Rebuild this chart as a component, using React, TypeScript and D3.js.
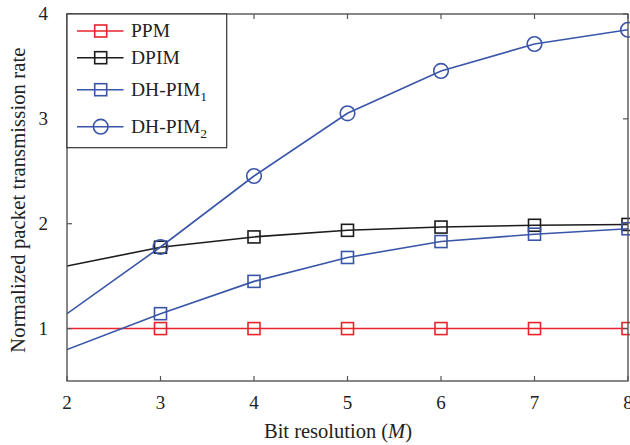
import React from "react";
import * as d3 from "d3";

const bits = [2, 3, 4, 5, 6, 7, 8];
const ppm = [1.0, 1.0, 1.0, 1.0, 1.0, 1.0, 1.0];
const dpim = [1.596, 1.776, 1.874, 1.937, 1.968, 1.985, 1.993];
const dhpim1 = [0.8, 1.142, 1.45, 1.678, 1.83, 1.9, 1.952];
const dhpim2 = [1.142, 1.778, 2.455, 3.053, 3.457, 3.714, 3.85];
const xTicks = [2, 3, 4, 5, 6, 7, 8];
const yTicks = [1, 2, 3, 4];
const markerFrom = 3;

type Series = { name: string; sub?: string; values: number[]; color: string; marker: "square" | "circle" };

const series: Series[] = [
  { name: "PPM", values: ppm, color: "#e8232b", marker: "square" },
  { name: "DPIM", values: dpim, color: "#1c1c1c", marker: "square" },
  { name: "DH-PIM", sub: "1", values: dhpim1, color: "#3a56a8", marker: "square" },
  { name: "DH-PIM", sub: "2", values: dhpim2, color: "#3a56a8", marker: "circle" },
];

const W = 630;
const H = 445;
const L = 67, R = 628, T = 14, B = 381;
const FONT = "'Liberation Serif', 'DejaVu Serif', serif";
const AX = "#555";
const TXT = "#222";

export default function App() {
  const x = d3.scaleLinear().domain([2, 8]).range([L, R]);
  const y = d3.scaleLinear().domain([0.5, 4]).range([B, T]);
  const line = d3
    .line<number>()
    .x((_, i) => x(bits[i]))
    .y((v) => y(v));

  const legendRows = [31, 57.7, 89.7, 126.7];
  const lx0 = 77, lx1 = 123.5, lmx = 100.7, ltx = 131;

  const drawMarker = (s: Series, cx: number, cy: number, key: string) =>
    s.marker === "square" ? (
      <rect key={key} x={cx - 6} y={cy - 6} width={12} height={12} fill="none" stroke={s.color} strokeWidth={1.6} />
    ) : (
      <circle key={key} cx={cx} cy={cy} r={7.3} fill="none" stroke={s.color} strokeWidth={1.6} />
    );

  return (
    <svg width={W} height={H} style={{ position: "absolute", left: 0, top: 0, background: "#fff" }} fontFamily={FONT}>
      <defs>
        <clipPath id="plotclip">
          <rect x={L} y={T} width={R - L} height={B - T} />
        </clipPath>
      </defs>
      <g clipPath="url(#plotclip)">
        {series.map((s, si) => (
          <path key={si} d={line(s.values) || ""} fill="none" stroke={s.color} strokeWidth={1.6} />
        ))}
      </g>
      {series.map((s, si) =>
        s.values.map((v, i) =>
          bits[i] >= markerFrom ? drawMarker(s, x(bits[i]), y(v), `m${si}-${i}`) : null
        )
      )}
      <rect x={L} y={T} width={R - L} height={B - T} fill="none" stroke={AX} strokeWidth={1.4} />
      {xTicks.map((t) => (
        <g key={`xt${t}`}>
          <line x1={x(t)} x2={x(t)} y1={B} y2={B - 5} stroke={AX} strokeWidth={1.2} />
          <line x1={x(t)} x2={x(t)} y1={T} y2={T + 5} stroke={AX} strokeWidth={1.2} />
          <text x={x(t)} y={408.5} textAnchor="middle" fontSize={19} fill={TXT}>
            {t}
          </text>
        </g>
      ))}
      {yTicks.map((t) => (
        <g key={`yt${t}`}>
          <line x1={L} x2={L + 5} y1={y(t)} y2={y(t)} stroke={AX} strokeWidth={1.2} />
          <line x1={R} x2={R - 5} y1={y(t)} y2={y(t)} stroke={AX} strokeWidth={1.2} />
          <text x={48} y={y(t) + 6.2} textAnchor="end" fontSize={19} fill={TXT}>
            {t}
          </text>
        </g>
      ))}
      <text x={338} y={438.3} textAnchor="middle" fontSize={20.5} fill={TXT}>
        Bit resolution (<tspan fontStyle="italic">M</tspan>)
      </text>
      <text
        transform={`translate(24.5, 200) rotate(-90)`}
        textAnchor="middle"
        fontSize={20.5}
        letterSpacing={0.15}
        fill={TXT}
      >
        Normalized packet transmission rate
      </text>
      <rect x={L} y={T} width={226.7 - L} height={147.7 - T} fill="#fff" stroke="#333" strokeWidth={1.2} />
      {series.map((s, si) => {
        const ry = legendRows[si];
        return (
          <g key={`lg${si}`}>
            <line x1={lx0} x2={lx1} y1={ry} y2={ry} stroke={s.color} strokeWidth={1.6} />
            {drawMarker(s, lmx, ry, `lm${si}`)}
            <text x={ltx} y={ry + 6} fontSize={19.5} fill={TXT}>
              {s.name}
              {s.sub ? (
                <tspan fontSize={13.5} dy={5}>
                  {s.sub}
                </tspan>
              ) : null}
            </text>
          </g>
        );
      })}
    </svg>
  );
}
